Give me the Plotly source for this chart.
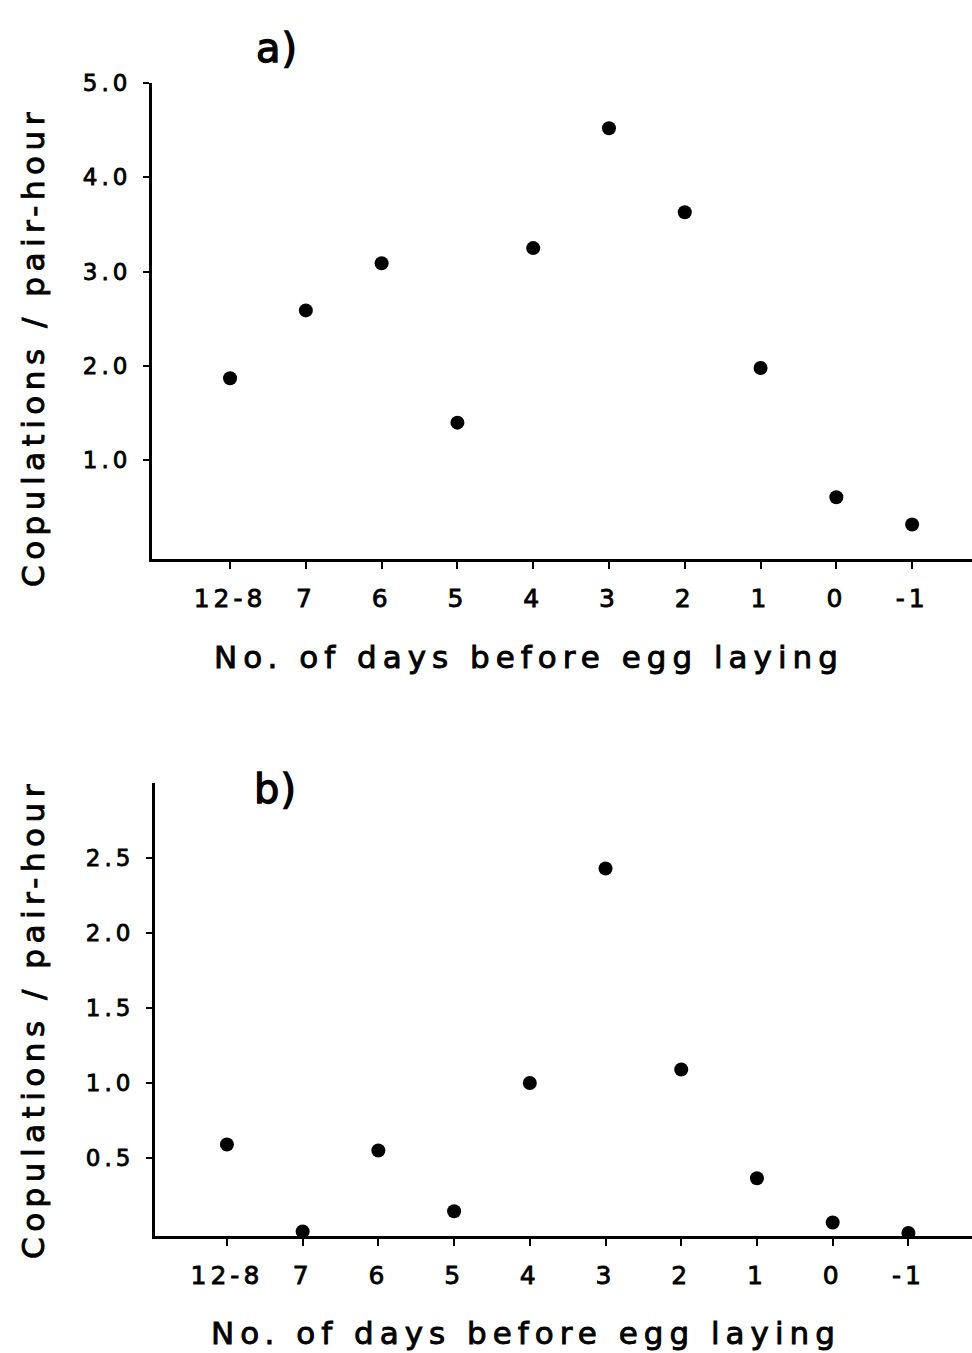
import plotly.graph_objects as go

W, H = 972, 1353

days = ["12-8", "7", "6", "5", "4", "3", "2", "1", "0", "-1"]
rate_a = [1.87, 2.59, 3.09, 1.40, 3.25, 4.52, 3.63, 1.98, 0.61, 0.32]
rate_b = [0.59, 0.01, 0.55, 0.145, 1.00, 2.43, 1.09, 0.365, 0.07, 0.0]

yticks_a = [1, 2, 3, 4, 5]
yticklabels_a = ["1.0", "2.0", "3.0", "4.0", "5.0"]
yticks_b = [0.5, 1.0, 1.5, 2.0, 2.5]
yticklabels_b = ["0.5", "1.0", "1.5", "2.0", "2.5"]

xtitle = "No. of days before egg laying"
ytitle = "Copulations / pair-hour"
panel_labels = ["a)", "b)"]

FONT = "DejaVu Sans"


def sp(t, ls, sw):
    return (f'<span style="letter-spacing:{ls}px;stroke:black;'
            f'stroke-width:{sw}px">{t}</span>')


idx = list(range(len(days)))

fig = go.Figure()
fig.add_trace(go.Scatter(x=idx, y=rate_a, mode="markers", xaxis="x", yaxis="y",
                         marker=dict(size=14, color="black"), showlegend=False))
fig.add_trace(go.Scatter(x=idx, y=rate_b, mode="markers", xaxis="x2", yaxis="y2",
                         marker=dict(size=14, color="black"), showlegend=False))

xtickfont = dict(family=FONT, size=25, color="black")
ytickfont = dict(family=FONT, size=23, color="black")

common_x = dict(showline=True, linecolor="black", linewidth=3, ticks="outside",
                ticklen=7, tickwidth=2, tickcolor="black", showgrid=False,
                zeroline=False, tickfont=xtickfont, ticklabelstandoff=8,
                automargin=False,
                tickvals=idx, ticktext=[sp(d, 4, 0.8) for d in days])
common_y = dict(showline=True, linecolor="black", linewidth=3, ticks="outside",
                ticklen=6, tickwidth=2, tickcolor="black", showgrid=False,
                zeroline=False, tickfont=ytickfont, ticklabelstandoff=7,
                automargin=False)

fig.update_layout(
    template="none",
    width=W, height=H,
    margin=dict(l=0, r=0, t=0, b=0, pad=0),
    paper_bgcolor="white", plot_bgcolor="white",
    xaxis=dict(domain=[152 / W, 1], range=[-1.03, 9.79], anchor="y", **common_x),
    yaxis=dict(domain=[1 - 559 / H, 1 - 83 / H], range=[-0.045, 5.0], anchor="x",
               tickvals=yticks_a, ticktext=[sp(t, 4, 0.8) for t in yticklabels_a], **common_y),
    xaxis2=dict(domain=[155 / W, 1], range=[-0.95, 9.84], anchor="y2", **common_x),
    yaxis2=dict(domain=[1 - 1236 / H, 1 - 783 / H], range=[-0.02, 3.0], anchor="x2",
                tickvals=yticks_b, ticktext=[sp(t, 4, 0.8) for t in yticklabels_b], **common_y),
)

ann = []
# x titles
for cx, cy in [(529, 657), (526, 1333)]:
    ann.append(dict(text=sp(xtitle, 6, 0.9), x=cx / W, y=1 - cy / H, xref="paper", yref="paper",
                    xanchor="center", yanchor="middle", showarrow=False,
                    font=dict(family=FONT, size=31, color="black")))
# y titles
for cx, cy in [(33, 347), (33, 1019)]:
    ann.append(dict(text=sp(ytitle, 5.5, 0.9), x=cx / W, y=1 - cy / H, xref="paper", yref="paper",
                    xanchor="center", yanchor="middle", showarrow=False, textangle=-90,
                    font=dict(family=FONT, size=31, color="black")))
# panel labels
for lab, (cx, cy) in zip(panel_labels, [(277, 48), (275, 789)]):
    ann.append(dict(text=sp(lab, 1, 1.3), x=cx / W, y=1 - cy / H, xref="paper", yref="paper",
                    xanchor="center", yanchor="middle", showarrow=False,
                    font=dict(family=FONT, size=40, color="black")))
fig.update_layout(annotations=ann)

fig.write_html("out.html", config={"displayModeBar": False},
               post_script="document.body.style.margin='0';document.body.style.overflow='hidden';")
